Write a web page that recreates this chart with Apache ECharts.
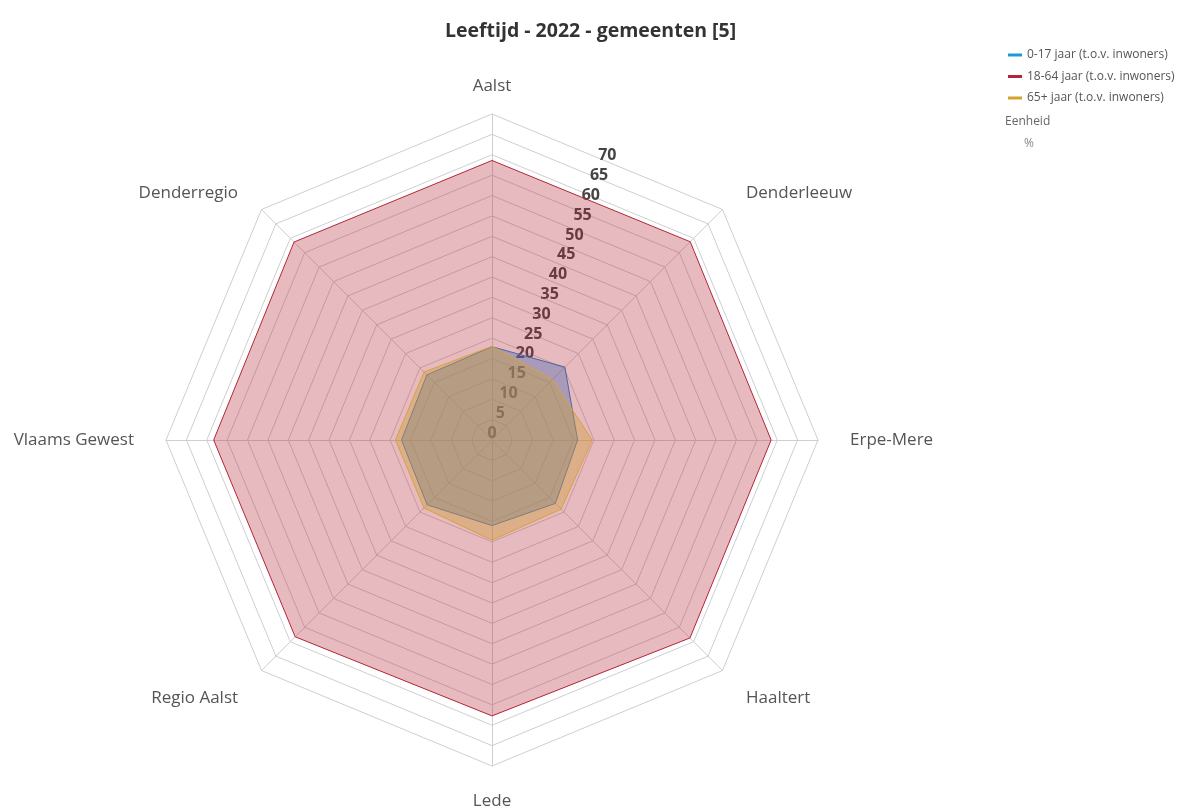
<!DOCTYPE html>
<html>
<head>
<meta charset="utf-8">
<script src="https://cdn.jsdelivr.net/npm/echarts@6/dist/echarts.min.js"></script>
<style>
  html, body { margin: 0; padding: 0; background: #fff; }
  #chart { width: 1181px; height: 810px; }
</style>
</head>
<body>
<div id="chart"></div>
<script>
// gemeenten, met de klok mee vanaf boven
const gemeenten = ['Aalst', 'Denderleeuw', 'Erpe-Mere', 'Haaltert', 'Lede', 'Regio Aalst', 'Vlaams Gewest', 'Denderregio'];
const reeksen = ['0-17 jaar (t.o.v. inwoners)', '18-64 jaar (t.o.v. inwoners)', '65+ jaar (t.o.v. inwoners)'];
const jong = [22.9, 25.3, 21.0, 22.0, 21.0, 22.5, 22.2, 22.6];
const actief = [68.6, 68.8, 68.5, 68.7, 67.7, 68.3, 68.3, 68.7];
const oud = [23.0, 21.0, 24.6, 24.0, 24.6, 23.6, 23.7, 23.6];
const asMin = 0;
const asMax = 80;
const stap = 5;
const laatsteLabel = 70;

const font = 'Open Sans';

// echarts legt radar-assen tegen de klok in, dus de volgorde omdraaien
const klok = arr => [arr[0]].concat(arr.slice(1).reverse());

// extra afstand per richting (boven, rechtsboven, rechts, ...)
const naamStijl = (pad) => ({ color: '#555', fontSize: 17, fontFamily: font, padding: pad });
const naamRich = {
  n: naamStijl([0, 0, 0, 0]),
  ro: naamStijl([0, 0, 6, 10]),
  r: naamStijl([0, 0, 0, 13]),
  rb: naamStijl([28, 0, 0, 10]),
  b: naamStijl([8, 0, 0, 0]),
  lb: naamStijl([28, 10, 0, 0]),
  l: naamStijl([0, 13, 0, 0]),
  lo: naamStijl([0, 10, 6, 0])
};
const richting = ['n', 'ro', 'r', 'rb', 'b', 'lb', 'l', 'lo'];

const chart = echarts.init(document.getElementById('chart'));

chart.setOption({
  backgroundColor: '#fff',
  textStyle: { fontFamily: font },
  title: [
    {
      text: 'Leeftijd - 2022 - gemeenten [5]',
      left: 'center',
      top: 16,
      textStyle: { fontSize: 19.5, fontWeight: 'bold', color: '#333', fontFamily: font }
    },
    {
      text: 'Eenheid',
      left: 1000,
      top: 111,
      textStyle: { fontSize: 12, fontWeight: 'normal', color: '#666', fontFamily: font }
    },
    {
      text: '%',
      left: 1019,
      top: 133,
      textStyle: { fontSize: 12, fontWeight: 'normal', color: '#888', fontFamily: font }
    }
  ],
  legend: {
    orient: 'vertical',
    left: 1003,
    top: 43,
    itemWidth: 14,
    itemHeight: 3,
    itemGap: 7.5,
    icon: 'rect',
    data: reeksen,
    textStyle: { fontSize: 12, color: '#555', fontFamily: font, lineHeight: 14 }
  },
  radar: [
    {
      center: [492, 440],
      radius: 326,
      startAngle: 90,
      splitNumber: (asMax - asMin) / stap,
      shape: 'polygon',
      indicator: klok(gemeenten).map(n => ({ name: n, min: asMin, max: asMax })),
      axisName: {
        color: '#555',
        fontSize: 17,
        fontFamily: font,
        rich: naamRich,
        formatter: (naam) => '{' + richting[gemeenten.indexOf(naam)] + '|' + naam + '}'
      },
      nameGap: 19,
      splitArea: { show: false },
      splitLine: { lineStyle: { color: '#cfcfcf', width: 1 } },
      axisLine: { lineStyle: { color: '#cfcfcf', width: 1 } },
      axisTick: { show: false },
      axisLabel: { show: false }
    },
    {
      // schuine as alleen voor de waardelabels
      center: [492, 433],
      radius: 343,
      startAngle: 67.4,
      splitNumber: (asMax - asMin) / stap,
      indicator: [{ name: '', min: asMin, max: asMax }],
      axisName: { show: false },
      splitArea: { show: false },
      splitLine: { show: false },
      axisLine: { show: false },
      axisTick: { show: false },
      axisLabel: {
        show: true,
        margin: 0,
        align: 'center',
        verticalAlign: 'middle',
        fontSize: 16,
        fontWeight: 'bold',
        color: '#444',
        fontFamily: font,
        formatter: v => (v <= laatsteLabel ? String(v) : '')
      }
    }
  ],
  series: [
    {
      type: 'radar',
      radarIndex: 0,
      name: reeksen[1],
      symbol: 'none',
      itemStyle: { color: '#b3263a' },
      lineStyle: { color: '#b3263a', width: 1 },
      areaStyle: { color: 'rgba(181,40,59,0.32)', opacity: 1 },
      data: [{ name: reeksen[1], value: klok(actief) }]
    },
    {
      type: 'radar',
      radarIndex: 0,
      name: reeksen[0],
      symbol: 'none',
      itemStyle: { color: '#1b9ad6' },
      lineStyle: { color: '#4d66a0', width: 1 },
      areaStyle: { color: 'rgba(80,110,175,0.42)', opacity: 1 },
      data: [{ name: reeksen[0], value: klok(jong) }]
    },
    {
      type: 'radar',
      radarIndex: 0,
      name: reeksen[2],
      symbol: 'none',
      itemStyle: { color: '#d4a22e' },
      lineStyle: { color: '#d9a441', width: 1 },
      areaStyle: { color: 'rgba(205,160,55,0.4)', opacity: 1 },
      data: [{ name: reeksen[2], value: klok(oud) }]
    }
  ]
});
</script>
</body>
</html>
